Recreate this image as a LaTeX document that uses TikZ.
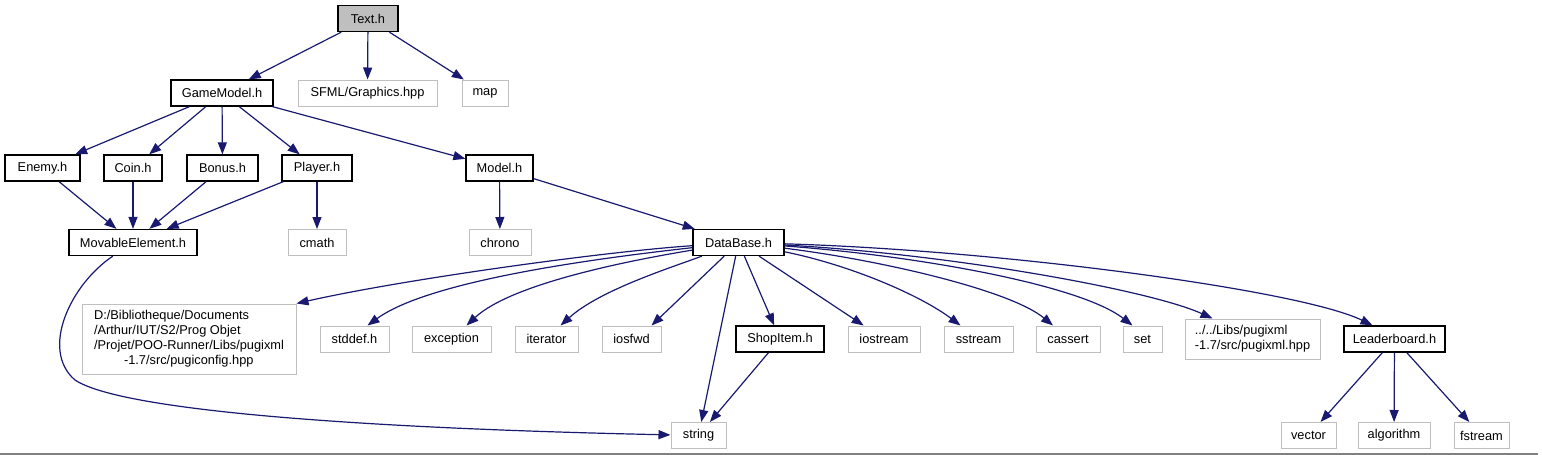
\documentclass[tikz,border=0pt]{standalone}
\usepackage{fontspec}
\setmainfont{Liberation Sans}
\usetikzlibrary{arrows.meta}
\definecolor{navy}{HTML}{191970}
\definecolor{lgray}{HTML}{BFBFBF}
\definecolor{frame}{HTML}{808080}
\colorlet{sysc}{lgray}
\tikzset{box/.style={rectangle,inner sep=0pt,minimum height=26pt,
    font=\fontsize{12.8}{15}\selectfont},
  hdr/.style={box,draw=black,line width=1.3pt,fill=white},
  sys/.style={box,draw=sysc,line width=1pt,fill=white},
  cur/.style={hdr,fill=lgray},
  inc/.style={navy,line width=1.2pt,-{Triangle[length=12pt,width=9pt]}}}
\begin{document}
\begin{tikzpicture}[x=1pt,y=-1pt]
\useasboundingbox (0,0) rectangle (1542,455);
% top rows
\node[cur,minimum width=60pt] (text) at (368,18.5) {Text.h};
\node[hdr,minimum width=102pt] (gamemodel) at (222,93) {GameModel.h};
\node[sys,minimum width=139pt] (sfml) at (367.5,93) {SFML/Graphics.hpp};
\node[sys,minimum width=46pt] (map) at (485,93) {map};
\node[hdr,minimum width=75pt] (enemy) at (42.5,168) {Enemy.h};
\node[hdr,minimum width=58pt] (coin) at (133,168) {Coin.h};
\node[hdr,minimum width=71pt] (bonus) at (222.5,168) {Bonus.h};
\node[hdr,minimum width=70pt] (player) at (317,168) {Player.h};
\node[hdr,minimum width=67pt] (model) at (499.5,168) {Model.h};
\node[hdr,minimum width=128pt] (movable) at (133,242.5) {MovableElement.h};
\node[sys,minimum width=58pt] (cmath) at (317,242.5) {cmath};
\node[sys,minimum width=62pt] (chrono) at (500,242.5) {chrono};
\node[hdr,minimum width=91pt] (database) at (738.5,242.5) {DataBase.h};
% includes of DataBase.h
\node[sys,minimum width=214pt,minimum height=70pt,align=left] (pugicfg) at (189,339)
  {D:/Bibliotheque/Documents\\/Arthur/IUT/S2/Prog Objet\\/Projet/POO-Runner/Libs/pugixml\\\hspace*{30pt}-1.7/src/pugiconfig.hpp};
\node[sys,minimum width=69pt] (stddef) at (354.5,339) {stddef.h};
\node[sys,minimum width=79pt] (exception) at (451.5,339) {exception};
\node[sys,minimum width=63pt] (iterator) at (546.5,339) {iterator};
\node[sys,minimum width=59pt] (iosfwd) at (631.5,339) {iosfwd};
\node[hdr,minimum width=88pt] (shopitem) at (780,339) {ShopItem.h};
\node[sys,minimum width=72pt] (iostream) at (884,339) {iostream};
\node[sys,minimum width=69pt] (sstream) at (978.5,339) {sstream};
\node[sys,minimum width=64pt] (cassert) at (1068,339) {cassert};
\node[sys,minimum width=39pt] (set) at (1142.5,339) {set};
\node[sys,minimum width=135pt,minimum height=40pt,align=left] (pugixml) at (1252.5,339)
  {../../Libs/pugixml\\-1.7/src/pugixml.hpp};
\node[hdr,minimum width=101pt] (leaderboard) at (1394.5,339) {Leaderboard.h};
\node[sys,minimum width=55pt] (string) at (698.5,435.5) {string};
\node[sys,minimum width=55pt] (vector) at (1308.5,435.5) {vector};
\node[sys,minimum width=72pt] (algorithm) at (1394,435.5) {algorithm};
\node[sys,minimum width=55pt] (fstream) at (1481.5,435.5) {fstream};
% straight includes
\foreach \a/\b in {text/gamemodel,text/sfml,text/map,gamemodel/enemy,gamemodel/coin,
  gamemodel/bonus,gamemodel/player,gamemodel/model,enemy/movable,coin/movable,
  bonus/movable,player/movable,player/cmath,model/chrono,model/database,
  database/string,database/shopitem,database/iostream,shopitem/string,
  leaderboard/vector,leaderboard/algorithm,leaderboard/fstream}
  \draw[inc] (\a) -- (\b);
\draw[inc] (database) -- ([xshift=20pt]iosfwd.north);
% curved includes
\draw[inc] (database) .. controls (600,252) and (400,280) .. (pugicfg.north east);
\draw[inc] (database) .. controls (600,258) and (430,280) .. ([xshift=13pt]stddef.north);
\draw[inc] (database) .. controls (620,262) and (510,285) .. ([xshift=15pt]exception.north);
\draw[inc] (database) .. controls (670,268) and (600,290) .. ([xshift=14pt]iterator.north);
\draw[inc] (database) .. controls (850,265) and (920,295) .. ([xshift=-18pt]sstream.north);
\draw[inc] (database) .. controls (880,260) and (1010,290) .. ([xshift=-15pt]cassert.north);
\draw[inc] (database) .. controls (920,256) and (1080,285) .. ([xshift=-10pt]set.north);
\draw[inc] (database) .. controls (950,254) and (1150,290) .. ([xshift=-40pt]pugixml.north);
\draw[inc] (database) .. controls (1000,250) and (1300,290) .. ([xshift=-22pt]leaderboard.north);
\draw[inc] (movable) .. controls (70,285) and (40,350) .. (75,380)
  .. controls (120,410) and (350,428) .. (string);
\draw[frame,line width=2pt] (0,454) -- (1538,454);
\end{tikzpicture}
\end{document}
